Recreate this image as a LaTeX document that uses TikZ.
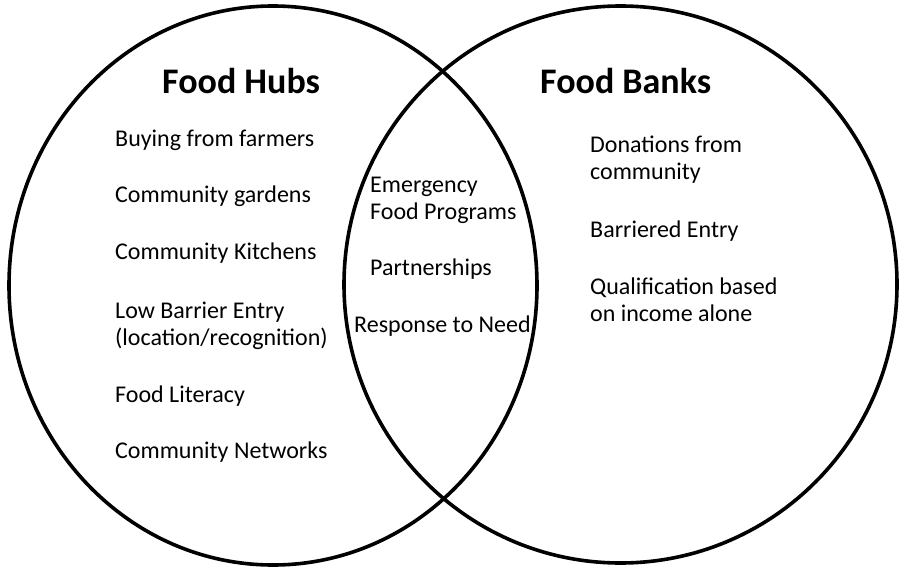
\documentclass[tikz,border=0pt]{standalone}
\usepackage{fontspec}
\setmainfont{Carlito}
\begin{document}
\begin{tikzpicture}[x=1pt,y=-1pt,
  ring/.style={line width=3.6pt,draw=black},
  heading/.style={anchor=base west,inner sep=0pt,font=\fontsize{36}{40}\selectfont\bfseries},
  item/.style={anchor=base west,inner sep=0pt,align=left,font=\fontsize{24}{27}\selectfont}]
  \useasboundingbox (0,0) rectangle (900,570);
  \fill[white] (0,0) rectangle (900,570);

  % the two overlapping sets
  \draw[ring] (273,285.5) ellipse [x radius=264, y radius=279.5];
  \draw[ring] (620.5,284.5) ellipse [x radius=276.5, y radius=278.5];

  % headings
  \node[heading] (hubs)  at (162,93) {Food Hubs};
  \node[heading] (banks) at (540,93) {Food Banks};

  % food hubs only (multi-line nodes sit on their last baseline)
  \node[item] (h1) at (115,146) {Buying from farmers};
  \node[item] (h2) at (115,202) {Community gardens};
  \node[item] (h3) at (115,259) {Community Kitchens};
  \node[item] (h4) at (115,345) {Low Barrier Entry\\(location/recognition)};
  \node[item] (h5) at (115,402) {Food Literacy};
  \node[item] (h6) at (115,458) {Community Networks};

  % shared
  \node[item] (s1) at (370,219) {Emergency\\Food Programs};
  \node[item] (s2) at (370,275) {Partnerships};
  \node[item] (s3) at (354,332) {Response to Need};

  % food banks only
  \node[item] (b1) at (590,179) {Donations from\\community};
  \node[item] (b2) at (590,237) {Barriered Entry};
  \node[item] (b3) at (590,321) {Qualification based\\on income alone};
\end{tikzpicture}
\end{document}
